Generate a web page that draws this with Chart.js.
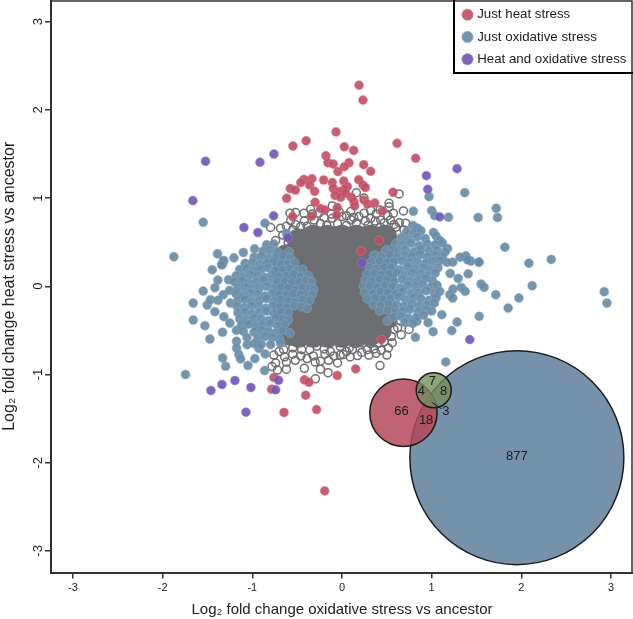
<!DOCTYPE html>
<html><head><meta charset="utf-8">
<style>html,body{margin:0;padding:0;background:#fff}canvas{display:block}</style>
<script src="https://cdn.jsdelivr.net/npm/chart.js@4"></script></head>
<body><canvas id="c" width="633" height="619"></canvas>
<script>
const seriesNames = ['Just heat stress','Just oxidative stress','Heat and oxidative stress'];
const xTitle = 'Log\u2082 fold change oxidative stress vs ancestor';
const yTitle = 'Log\u2082 fold change heat stress vs ancestor';
const heatOnly = [[.19,2.28],[.234,2.11],[-.067,1.75],[-.40,1.65],[-.547,1.59],[.026,1.58],[.13,1.54],[.614,1.62],[.822,1.45],[-.179,1.48],[-.156,1.40],[-.097,1.386],[.078,1.40],[.026,1.356],[-.045,1.30],[.242,1.378],[.32,1.303],[-.335,1.22],[-.424,1.21],[-.46,1.175],[-.36,1.148],[-.205,1.205],[-.108,1.175],[.019,1.193],[.186,1.208],[.06,1.13],[-.097,1.11],[.234,1.148],[.26,1.12],[-.305,1.076],[-.577,1.107],[-.52,1.09],[.026,1.10],[-.033,1.073],[-.078,1.03],[-.015,1.009],[.04,1.054],[.104,1.009],[-.617,.997],[.569,1.065],[.246,.978],[-.30,.952],[.134,.96],[.283,.933],[.365,.945],[.141,.911],[-.238,.88],[-.193,.865],[-.052,.892],[-.06,.805],[.45,.854],[-.55,.79],[-.339,.794],[.413,.522],[.212,.398],[-.759,-1.035],[-.785,-1.167],[-.42,-1.061],[-.368,-1.088],[-.405,-1.235],[-.647,-1.431],[-.283,-1.398],[-.052,-1.012],[.153,-.937],[.44,-.605],[-.193,-2.32]];
const bothStress = [[-1.522,1.417],[-.915,1.405],[-.759,1.499],[-1.663,.971],[.941,1.254],[1.283,1.333],[.956,1.099],[1.09,.786],[-.763,.798],[-1.094,.666],[-.9375,.609],[-.603,.549],[.223,.266],[-.707,-1.065],[-.74,-1.174],[-1.016,-1.148],[-1.194,-1.069],[-1.339,-1.114],[-1.462,-1.182],[-1.071,-1.427],[1.425,-.605]];
const oxidativeFringe = [[-1.548,.726],[-.859,.715],[-1.875,.334],[-1.388,.368],[-1.317,.292],[-1.205,.322],[-1.10,.383],[-1.332,.247],[-.975,.424],[-.618,.60],[-.61,.56],[.796,.85],[.971,1.016],[1.369,1.061],[1.0,.858],[1.034,.80],[1.187,.782],[1.518,.779],[.365,.349],[1.72,.884],[1.734,.779],[1.816,.443],[2.084,.262],[2.333,.304],[2.121,.006],[2.924,-.062],[2.954,-.19],[1.972,-.134],[1.853,-.247],[1.715,-.096],[1.53,-.341],[1.551,.025],[1.585,-.013],[1.373,-.058],[1.329,-.013],[1.239,-.032],[1.202,-.096],[1.235,-.134],[1.295,.089],[1.407,.141],[1.206,.145],[1.526,.273],[1.437,.285],[1.381,.345],[1.317,.33],[1.235,.273],[1.176,.428],[1.399,.30],[1.529,.274],[1.113,-.322],[1.284,-.405],[1.224,-.503],[1.016,-.515],[.96,-.413],[.819,-.579],[.834,-.398],[.506,-.394],[1.157,-.858],[-1.324,.288],[-1.343,.243],[-1.447,.187],[-1.384,.07],[-1.265,.074],[-1.417,-.017],[-1.548,-.055],[-1.659,-.19],[-1.503,-.213],[-1.466,-.153],[-1.384,-.16],[-1.324,-.096],[-1.254,-.047],[-1.243,-.19],[-1.417,-.288],[-1.659,-.383],[-1.529,-.447],[-1.317,-.345],[-1.25,-.417],[-1.332,-.522],[-1.473,-.598],[-1.176,-.5],[-1.176,-.624],[-1.176,-.7],[-1.15,-.775],[-1.131,-.824],[-1.332,-.813],[-1.298,-.907],[-1.049,-.899],[-.971,-.82],[-.863,-.956],[-1.745,-1.001],[-.856,-.767],[-.926,-.707]];
const oxidativeRight = [[.79,.69],[.84,.66],[.72,.62],[.80,.60],[.88,.63],[1.02,.61],[.66,.55],[.74,.53],[.84,.56],[.93,.54],[1.05,.57],[1.09,.52],[.60,.48],[.68,.47],[.77,.49],[.86,.46],[.95,.48],[1.04,.47],[1.12,.49],[.49,.41],[.56,.42],[.63,.40],[.71,.41],[.80,.39],[.88,.42],[.97,.40],[1.06,.41],[1.15,.39],[.36,.35],[.44,.34],[.53,.36],[.61,.33],[.70,.35],[.78,.34],[.87,.36],[.95,.33],[1.04,.35],[1.12,.34],[.33,.28],[.42,.29],[.50,.27],[.58,.28],[.67,.29],[.75,.27],[.84,.28],[.93,.26],[1.01,.28],[1.09,.29],[1.17,.27],[.31,.21],[.38,.20],[.47,.22],[.55,.21],[.64,.19],[.73,.22],[.81,.20],[.90,.21],[.98,.19],[1.07,.21],[.28,.14],[.36,.15],[.44,.13],[.53,.14],[.61,.16],[.70,.13],[.78,.15],[.87,.14],[.95,.12],[1.04,.15],[.26,.07],[.33,.06],[.42,.08],[.50,.07],[.58,.05],[.67,.08],[.76,.06],[.84,.07],[.93,.09],[1.01,.06],[.24,0],[.31,.01],[.39,-.01],[.48,.01],[.56,0],[.65,-.02],[.73,.01],[.82,0],[.90,.02],[.99,-.01],[1.06,.01],[.25,-.07],[.34,-.08],[.43,-.06],[.51,-.07],[.60,-.09],[.68,-.06],[.77,-.08],[.86,-.07],[.94,-.05],[1.03,-.08],[1.09,-.06],[.28,-.14],[.37,-.13],[.46,-.15],[.54,-.14],[.63,-.12],[.71,-.15],[.80,-.13],[.88,-.14],[.97,-.16],[1.05,-.13],[.35,-.21],[.43,-.22],[.52,-.20],[.61,-.21],[.69,-.23],[.78,-.20],[.86,-.22],[.95,-.21],[1.03,-.19],[.42,-.28],[.51,-.27],[.6,-.29],[.68,-.28],[.76,-.26],[.85,-.29],[.93,-.27],[1.0,-.28],[.57,-.35],[.66,-.34],[.74,-.36],[.83,-.35],[.91,-.33],[.70,-.41],[.79,-.42]];
const oxidativeLeft = [[-.84,.47],[-.76,.48],[-.88,.40],[-.80,.41],[-.72,.39],[-.59,.39],[-.98,.33],[-.90,.34],[-.82,.32],[-.74,.33],[-.66,.35],[-.58,.32],[-1.08,.26],[-1.0,.27],[-.92,.25],[-.84,.26],[-.76,.28],[-.68,.25],[-.60,.26],[-.53,.27],[-1.14,.19],[-1.06,.20],[-.98,.18],[-.90,.19],[-.82,.21],[-.74,.18],[-.66,.19],[-.58,.20],[-.50,.18],[-.44,.19],[-1.18,.12],[-1.10,.11],[-1.02,.13],[-.94,.12],[-.86,.10],[-.78,.13],[-.70,.11],[-.62,.12],[-.54,.14],[-.46,.11],[-.38,.12],[-1.2,.05],[-1.12,.06],[-1.04,.04],[-.96,.05],[-.88,.07],[-.80,.04],[-.72,.05],[-.64,.06],[-.56,.04],[-.48,.05],[-.40,.07],[-.34,.05],[-1.16,-.02],[-1.08,-.01],[-1.0,-.03],[-.92,-.02],[-.84,0],[-.76,-.03],[-.68,-.01],[-.60,-.02],[-.52,-.04],[-.44,-.01],[-.36,-.02],[-.32,-.03],[-1.18,-.09],[-1.10,-.10],[-1.02,-.08],[-.94,-.09],[-.86,-.11],[-.78,-.08],[-.70,-.09],[-.62,-.10],[-.54,-.08],[-.46,-.09],[-.38,-.11],[-.33,-.09],[-1.16,-.16],[-1.08,-.15],[-1.0,-.17],[-.92,-.16],[-.84,-.14],[-.76,-.17],[-.68,-.15],[-.60,-.16],[-.52,-.18],[-.44,-.15],[-.36,-.16],[-1.17,-.23],[-1.09,-.24],[-1.01,-.22],[-.93,-.23],[-.85,-.25],[-.77,-.22],[-.69,-.23],[-.61,-.24],[-.53,-.22],[-.45,-.23],[-.39,-.25],[-1.16,-.30],[-1.08,-.29],[-1.0,-.31],[-.92,-.30],[-.84,-.28],[-.76,-.31],[-.68,-.29],[-.60,-.30],[-1.14,-.37],[-1.06,-.38],[-.98,-.36],[-.90,-.37],[-.82,-.39],[-.74,-.36],[-.66,-.37],[-.60,-.38],[-1.12,-.44],[-1.04,-.43],[-.96,-.45],[-.88,-.44],[-.80,-.42],[-.72,-.45],[-.64,-.43],[-1.1,-.51],[-.98,-.52],[-.90,-.50],[-.82,-.51],[-.74,-.53],[-.66,-.50],[-.58,-.53],[-1.06,-.58],[-.94,-.59],[-.86,-.57],[-.78,-.58],[-.70,-.60],[-1.057,-.662],[-.98,-.65],[-.90,-.66],[-.796,-.662],[-.685,-.643]];
const unchangedRings = [[.16,1.06],[.246,1.0],[.636,1.046],[.525,.94],[.685,.854],[.573,.828],[.424,.865],[.432,.752],[.246,.828],[.097,.847],[-.108,.91],[-.35,.873],[-.517,.835],[-.58,.828],[-.573,.745],[-.424,.828],[-.257,.828],[-.796,.666],[-.685,.658],[-.74,.518],[.71,.715],[.692,.639],[0,.79],[.19,.79],[.32,.77],[.54,.75],[-.31,.75],[-.108,.77],[-.46,.68],[-.39,.68],[-.24,.71],[-.05,.71],[.10,.75],[.29,.69],[.43,.67],[.6,.67],[-.50,.60],[-.55,.64],[.64,.72],[.16,.72],[-.17,.69],[.37,.74],[.05,.69],[-.12,.82],[.32,.86],[-.62,.68],[-.52,.70],[-.42,.74],[-.33,.82],[-.20,.78],[-.03,.84],[.05,.80],[.13,.78],[.26,.74],[.38,.82],[.47,.72],[.51,.80],[.58,.70],[-.66,.58],[-.60,.50],
[-.76,-.78],[-.74,-.87],[-.78,-.91],[-.62,-.86],[-.72,-.95],[-.62,-.94],[-.42,-.93],[-.24,-.85],[-.24,-.94],[-.155,-.98],[-.297,-1.05],[-.05,-.87],[-.09,-.79],[-.19,-.77],[-.39,-.82],[-.55,-.77],[-.46,-.79],[-.32,-.79],[-.13,-.74],[-.28,-.68],[.424,-.899],[.517,-.7],[.439,-.726],[.358,-.711],[.283,-.719],[.172,-.786],[.09,-.802],[.116,-.718],[.015,-.775],[.227,-.643],[.47,-.63],[.40,-.65],[.32,-.65],[.14,-.65],[.525,.9],[.748,-.49],[.655,-.395],[.58,-.49],[.66,-.55],[.55,-.57],[-.55,-.70],[-.45,-.72],[-.65,-.72],[-.02,-.68],[.05,-.74],[-.64,-.80],[-.36,-.72],[-.20,-.71],[-.70,-.74],[-.52,-.84],[-.30,-.86],[-.15,-.84],[-.02,-.78],[.22,-.75],[.30,-.78],[.38,-.76],[.50,-.78],[.56,-.64],[.62,-.47],[.08,-.70]];
const unchangedCore = [[-.48,.52],[-.32,.56],[-.16,.56],[0,.56],[.16,.56],[.32,.56],[.48,.56],[-.62,.34],[-.48,.40],[-.32,.40],[-.16,.40],[0,.40],[.16,.40],[.32,.40],[.48,.40],[-.64,.24],[-.48,.24],[-.32,.24],[-.16,.24],[0,.24],[.16,.24],[.32,.24],[.48,.24],[-.64,.08],[-.48,.08],[-.32,.08],[-.16,.08],[0,.08],[.16,.08],[.32,.08],[.48,.08],[-.64,-.08],[-.48,-.08],[-.32,-.08],[-.16,-.08],[0,-.08],[.16,-.08],[.32,-.08],[.48,-.08],[-.64,-.24],[-.48,-.24],[-.32,-.24],[-.16,-.24],[0,-.24],[.16,-.24],[.32,-.24],[.48,-.24],[-.60,-.40],[-.48,-.40],[-.32,-.40],[-.16,-.40],[0,-.40],[.16,-.40],[.32,-.40],[.48,-.36],[-.58,-.54],[-.48,-.56],[-.32,-.56],[-.16,-.56],[0,-.56],[.16,-.56],[.32,-.54],[.42,-.50]];
const vennX = [1.95,.685,1.023];
const vennY = [-1.943,-1.434,-1.179];
const vennRadius = [107,33.7,17.5];
const vennCounts = ['877','66','18','7','8','4','3'];
const vennCountX = [1.95,.663,.938,1.009,1.132,.886,1.157];
const vennCountY = [-1.93,-1.416,-1.521,-1.077,-1.19,-1.19,-1.416];
const pts = a => a.map(p => ({x:p[0],y:p[1]}));
const BLUE='rgba(104,140,167,.92)',BLUEH='rgba(140,170,190,.55)',RED='rgba(193,78,100,.9)',REDH='rgba(215,130,145,.5)',PUR='rgba(115,88,182,.92)',PURH='rgba(160,140,210,.5)';
const zeroPad = s => {s.paddingTop=0;s.paddingBottom=0;s.paddingLeft=0;s.paddingRight=0;};
const frame = {id:'frame',
  afterUpdate(ch){const l=ch.legend;if(!l)return;const w=l.width,h=l.height;l.left=455.5;l.right=455.5+w;l.top=-1;l.bottom=l.top+h;},
  afterDraw(ch){const c=ch.ctx,a=ch.chartArea,x=ch.scales.x,y=ch.scales.y;c.save();
    c.strokeStyle='#333';c.lineWidth=1.5;c.beginPath();c.moveTo(a.left,1);c.lineTo(632,1);c.lineTo(632,a.bottom);c.stroke();
    c.strokeStyle='#000';c.lineWidth=2;c.strokeRect(454,-2,181,75);
    c.fillStyle='#1c1c1c';c.font='13px "Liberation Sans"';c.textAlign='center';c.textBaseline='middle';
    vennCounts.forEach((t,i)=>c.fillText(t,x.getPixelForValue(vennCountX[i]),y.getPixelForValue(vennCountY[i])));
    c.strokeStyle='#1c1c1c';c.lineWidth=1;c.beginPath();c.moveTo(x.getPixelForValue(1),y.getPixelForValue(-1.315));c.lineTo(x.getPixelForValue(1.11),y.getPixelForValue(-1.39));c.stroke();
    c.restore();}
};
new Chart(document.getElementById('c'),{
  type:'scatter',
  data:{datasets:[
    {label:seriesNames[0],data:pts(heatOnly),backgroundColor:RED,borderColor:REDH,order:2,pointStyle:'circle'},
    {label:seriesNames[1],data:pts(oxidativeFringe.concat(oxidativeRight,oxidativeLeft)),backgroundColor:BLUE,borderColor:BLUEH,order:3,pointStyle:'circle'},
    {label:seriesNames[2],data:pts(bothStress),backgroundColor:PUR,borderColor:PURH,order:1,pointStyle:'circle'},
    {label:'core',data:pts(unchangedCore),pointRadius:12,backgroundColor:'#6d6e71',borderWidth:0,order:5},
    {label:'rings',data:pts(unchangedRings),pointRadius:4,backgroundColor:'rgba(0,0,0,0)',borderColor:'#6d6e71',borderWidth:1.5,order:4},
    {type:'bubble',label:'v1',data:[{x:vennX[0],y:vennY[0],r:vennRadius[0]}],backgroundColor:'#7592aa',borderColor:'#1c1c1c',borderWidth:1.5,order:-1,clip:false},
    {type:'bubble',label:'v2',data:[{x:vennX[1],y:vennY[1],r:vennRadius[1]}],backgroundColor:'rgba(181,73,90,.85)',borderColor:'#1c1c1c',borderWidth:1.5,order:-2,clip:false},
    {type:'bubble',label:'v3',data:[{x:vennX[2],y:vennY[2],r:vennRadius[2]}],backgroundColor:'rgba(115,142,92,.8)',borderColor:'#1c1c1c',borderWidth:1.5,order:-3,clip:false}
  ]},
  options:{responsive:false,animation:false,
    layout:{padding:0,autoPadding:false},
    elements:{point:{radius:4.5,borderWidth:1}},
    plugins:{tooltip:{enabled:false},
      legend:{position:'chartArea',align:'start',
        labels:{usePointStyle:true,boxWidth:6,boxHeight:8,padding:9,color:'#1c1c1c',font:{family:'"Liberation Sans"',size:13.3},
          sort:(a,b)=>a.datasetIndex-b.datasetIndex,
          filter:it=>seriesNames.includes(it.text)}}},
    scales:{
      x:{type:'linear',min:-3.245,max:3.245,
        ticks:{stepSize:1,includeBounds:false,color:'#222',font:{family:'"Liberation Sans"',size:11},padding:3},
        grid:{drawOnChartArea:false,tickLength:6,color:'#333',lineWidth:1.5},
        border:{color:'#333',width:2},
        title:{display:true,text:xTitle,color:'#222',font:{family:'"Liberation Sans"',size:15},padding:{top:2,bottom:0}},
        afterFit:s=>{s.height=46.5;zeroPad(s);}},
      y:{type:'linear',min:-3.245,max:3.245,
        ticks:{stepSize:1,includeBounds:false,minRotation:90,maxRotation:90,crossAlign:'center',color:'#222',font:{family:'"Liberation Sans"',size:13},padding:1},
        grid:{drawOnChartArea:false,tickLength:6,color:'#333',lineWidth:1.5},
        border:{color:'#333',width:2},
        title:{display:true,text:yTitle,color:'#222',font:{family:'"Liberation Sans"',size:16},padding:{top:0,bottom:2}},
        afterFit:s=>{s.width=51;zeroPad(s);}}
    }
  },
  plugins:[frame]
});
</script></body></html>
